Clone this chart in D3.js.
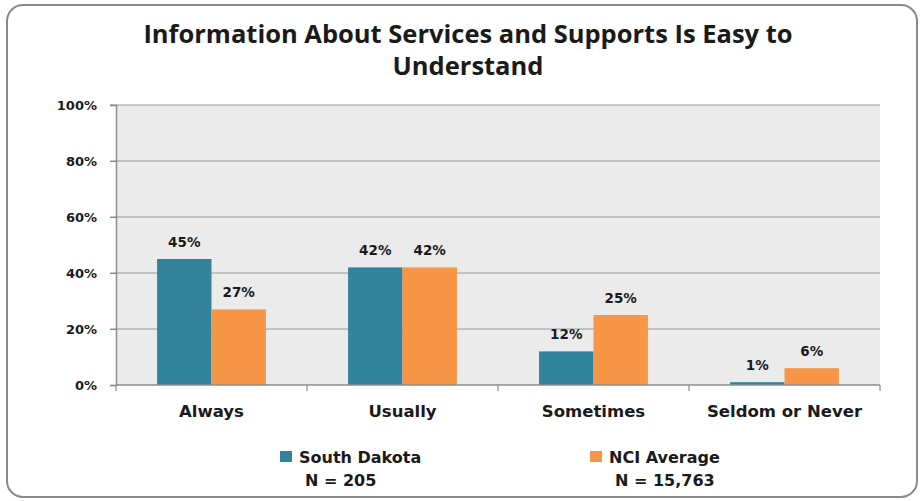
<!DOCTYPE html>
<html>
<head>
<meta charset="utf-8">
<script src="https://cdn.jsdelivr.net/npm/d3@7"></script>
<style>
  body { margin: 0; background: #fff; }
  text { font-family: "DejaVu Sans", Verdana, sans-serif; font-weight: bold; fill: #1a1a1a; }
</style>
</head>
<body>
<div id="graphic"></div>
<script>
// chart data
var categories = ["Always", "Usually", "Sometimes", "Seldom or Never"];
var seriesNames = ["South Dakota", "NCI Average"];
var seriesN = ["N = 205", "N = 15,763"];
var southDakota = [45, 42, 12, 1];
var nciAverage = [27, 42, 25, 6];
var yTicks = [0, 20, 40, 60, 80, 100];
var colors = ["#31849b", "#f79646"];

var W = 921, H = 501;
var margin = {top: 105, right: 41, bottom: 116, left: 116},
    width = W - margin.left - margin.right,
    height = H - margin.top - margin.bottom;

var svg = d3.select("#graphic").append("svg")
  .attr("width", W)
  .attr("height", H);

// outer frame
svg.append("rect")
  .attr("x", 7).attr("y", 5)
  .attr("width", 910).attr("height", 492)
  .attr("rx", 16).attr("ry", 16)
  .attr("fill", "#fff")
  .attr("stroke", "#8a8a8a")
  .attr("stroke-width", 2);

// title
var title = svg.append("text")
  .attr("text-anchor", "middle")
  .style("font-family", "\"Open Sans\", sans-serif")
  .style("font-size", "25.5px");
title.append("tspan").attr("x", 468).attr("y", 43).text("Information About Services and Supports Is Easy to");
title.append("tspan").attr("x", 468).attr("y", 75).text("Understand");

var g = svg.append("g")
  .attr("transform", "translate(" + margin.left + "," + margin.top + ")");

var x0 = d3.scaleBand().domain(categories).range([0, width]).paddingInner(0.43).paddingOuter(0.215);
var band = d3.scaleBand().domain(categories).range([0, width]);
var x1 = d3.scaleBand().domain([0, 1]).range([0, x0.bandwidth()]);
var y = d3.scaleLinear().domain([0, 100]).range([height, 0]);

// plot background
g.append("rect")
  .attr("width", width).attr("height", height)
  .attr("fill", "#ebebeb");

// gridlines
g.selectAll(".grid")
  .data(yTicks.filter(function(d) { return d > 0; }))
  .enter().append("line")
  .attr("x1", -6).attr("x2", width)
  .attr("y1", function(d) { return y(d); })
  .attr("y2", function(d) { return y(d); })
  .attr("stroke", "#9a9a9a").attr("stroke-width", 1.2);

// y axis
var yAxis = g.append("g")
  .call(d3.axisLeft(y).tickValues(yTicks).tickSize(6).tickFormat(function(d) { return d + "%"; }));
yAxis.select(".domain").attr("stroke", "#8c8c8c").attr("stroke-width", 1.5);
yAxis.selectAll(".tick line").attr("stroke", "#8c8c8c").attr("stroke-width", 1.2);
yAxis.selectAll(".tick text").attr("x", -19).attr("dy", "0.35em")
  .style("font-size", "13px").style("font-family", "\"DejaVu Sans\", sans-serif").attr("fill", "#1a1a1a");

// bars
var rows = categories.map(function(c, i) { return {cat: c, vals: [southDakota[i], nciAverage[i]]}; });
var groups = g.selectAll(".grp").data(rows).enter().append("g")
  .attr("transform", function(d) { return "translate(" + x0(d.cat) + ",0)"; });

groups.selectAll("rect")
  .data(function(d) { return d.vals.map(function(v, k) { return {k: k, v: v}; }); })
  .enter().append("rect")
  .attr("x", function(d) { return x1(d.k); })
  .attr("width", x1.bandwidth())
  .attr("y", function(d) { return y(d.v); })
  .attr("height", function(d) { return height - y(d.v); })
  .attr("fill", function(d) { return colors[d.k]; });

groups.selectAll(".lbl")
  .data(function(d) { return d.vals.map(function(v, k) { return {k: k, v: v}; }); })
  .enter().append("text")
  .attr("text-anchor", "middle")
  .attr("x", function(d) { return x1(d.k) + x1.bandwidth() / 2; })
  .attr("y", function(d) { return y(d.v) - 12; })
  .style("font-size", "13.5px")
  .text(function(d) { return d.v + "%"; });

// x axis
var xAxis = g.append("g")
  .attr("transform", "translate(0," + height + ")")
  .call(d3.axisBottom(band).tickSize(0).tickPadding(20));
xAxis.select(".domain").remove();
xAxis.selectAll(".tick text").style("font-size", "16.5px").attr("fill", "#1a1a1a")
  .style("font-family", "\"DejaVu Sans\", sans-serif");
xAxis.append("line").attr("x1", 0).attr("x2", width)
  .attr("stroke", "#8c8c8c").attr("stroke-width", 1.5);
xAxis.selectAll(".sep")
  .data(d3.range(categories.length + 1))
  .enter().append("line")
  .attr("x1", function(i) { return i * band.step(); })
  .attr("x2", function(i) { return i * band.step(); })
  .attr("y1", 0).attr("y2", 6)
  .attr("stroke", "#8c8c8c").attr("stroke-width", 1.2);

// legend
var legendX = [280, 590];
var leg = svg.selectAll(".leg").data(seriesNames).enter().append("g")
  .attr("transform", function(d, i) { return "translate(" + legendX[i] + ",0)"; });
leg.append("rect").attr("x", 0).attr("y", 451).attr("width", 12).attr("height", 11)
  .attr("fill", function(d, i) { return colors[i]; });
leg.append("text").attr("x", 19).attr("y", 463).style("font-size", "16px").text(function(d) { return d; });
leg.append("text").attr("x", 25).attr("y", 486).style("font-size", "16px").text(function(d, i) { return seriesN[i]; });
</script>
</body>
</html>
